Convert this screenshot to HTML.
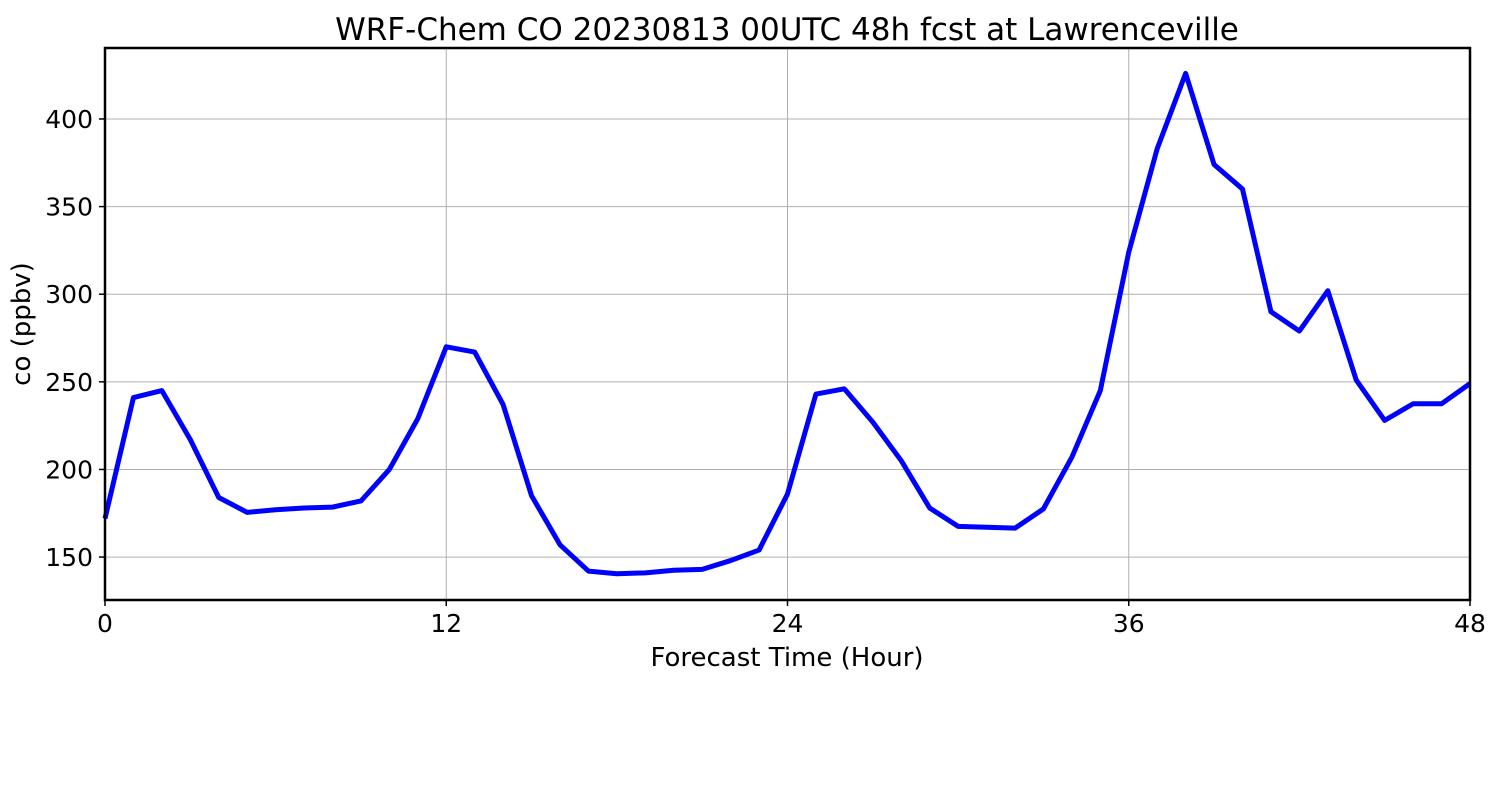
<!DOCTYPE html>
<html><head><meta charset="utf-8"><style>
html,body{margin:0;padding:0;background:#fff;width:1500px;height:800px;overflow:hidden}
text{font-family:"DejaVu Sans","Liberation Sans",sans-serif}
</style></head><body>
<svg id="chart" width="1500" height="800" xmlns="http://www.w3.org/2000/svg">
<text x="787" y="40" font-size="31" text-anchor="middle">WRF-Chem CO  20230813 00UTC 48h fcst at Lawrenceville</text>
<g id="grid"></g>
<g id="ticks"></g>
<polyline id="line" fill="none" stroke="#0000ff" stroke-width="5" stroke-linejoin="round"></polyline>
<rect x="105" y="48" width="1365" height="552" fill="none" stroke="#000" stroke-width="2.5"/>
<text x="787" y="666" font-size="26" text-anchor="middle">Forecast Time (Hour)</text>
<text transform="translate(30,324) rotate(-90)" font-size="26" text-anchor="middle">co  (ppbv)</text>
</svg>
<script>
const hours=[0,1,2,3,4,5,6,7,8,9,10,11,12,13,14,15,16,17,18,19,20,21,22,23,24,25,26,27,28,29,30,31,32,33,34,35,36,37,38,39,40,41,42,43,44,45,46,47,48];
const coValues=[172,241,245,217,184,175.5,177,178,178.5,182,200,229,270,267,237,185,157,142,140.5,141,142.5,143,148,154,186,243,246,227,205,178,167.5,167,166.5,177.5,207,245,324,383,426,374,360,290,279,302,251,228,237.5,237.5,249];
const xTicks=[0,12,24,36,48];
const yTicks=[150,200,250,300,350,400];
const X0=105,X1=1470,Y0=48,Y1=600,xMin=0,xMax=48,yMin=125.5,yMax=440.5;
const sx=v=>X0+(v-xMin)/(xMax-xMin)*(X1-X0);
const sy=v=>Y1-(v-yMin)/(yMax-yMin)*(Y1-Y0);
const NS="http://www.w3.org/2000/svg";
const grid=document.getElementById('grid'),ticks=document.getElementById('ticks');
function mk(tag,attrs,parent){const e=document.createElementNS(NS,tag);for(const k in attrs)e.setAttribute(k,attrs[k]);parent.appendChild(e);return e;}
xTicks.forEach(t=>{
  const x=sx(t);
  const g=mk('line',{x1:x,x2:x,y1:Y0,y2:Y1,stroke:'#b0b0b0','stroke-width':1},grid);
  
  
  const tk=mk('line',{x1:x,x2:x,y1:Y1,y2:Y1+6,stroke:'#000','stroke-width':1.5},ticks);
  
  
  const l=mk('text',{x:x,y:Y1+32,'font-size':25,'text-anchor':'middle'},ticks);
  l.textContent=t;
  
  
});
yTicks.forEach(t=>{
  const y=sy(t);
  const g=mk('line',{x1:X0,x2:X1,y1:y,y2:y,stroke:'#b0b0b0','stroke-width':1},grid);
  
  
  const tk=mk('line',{x1:X0-6,x2:X0,y1:y,y2:y,stroke:'#000','stroke-width':1.5},ticks);
  
  
  const l=mk('text',{x:X0-12,y:y+9,'font-size':25,'text-anchor':'end'},ticks);
  l.textContent=t;
  
  
});
document.getElementById('line').setAttribute('points',hours.map((h,i)=>sx(h)+','+sy(coValues[i])).join(' '));
</script>
</body></html>
